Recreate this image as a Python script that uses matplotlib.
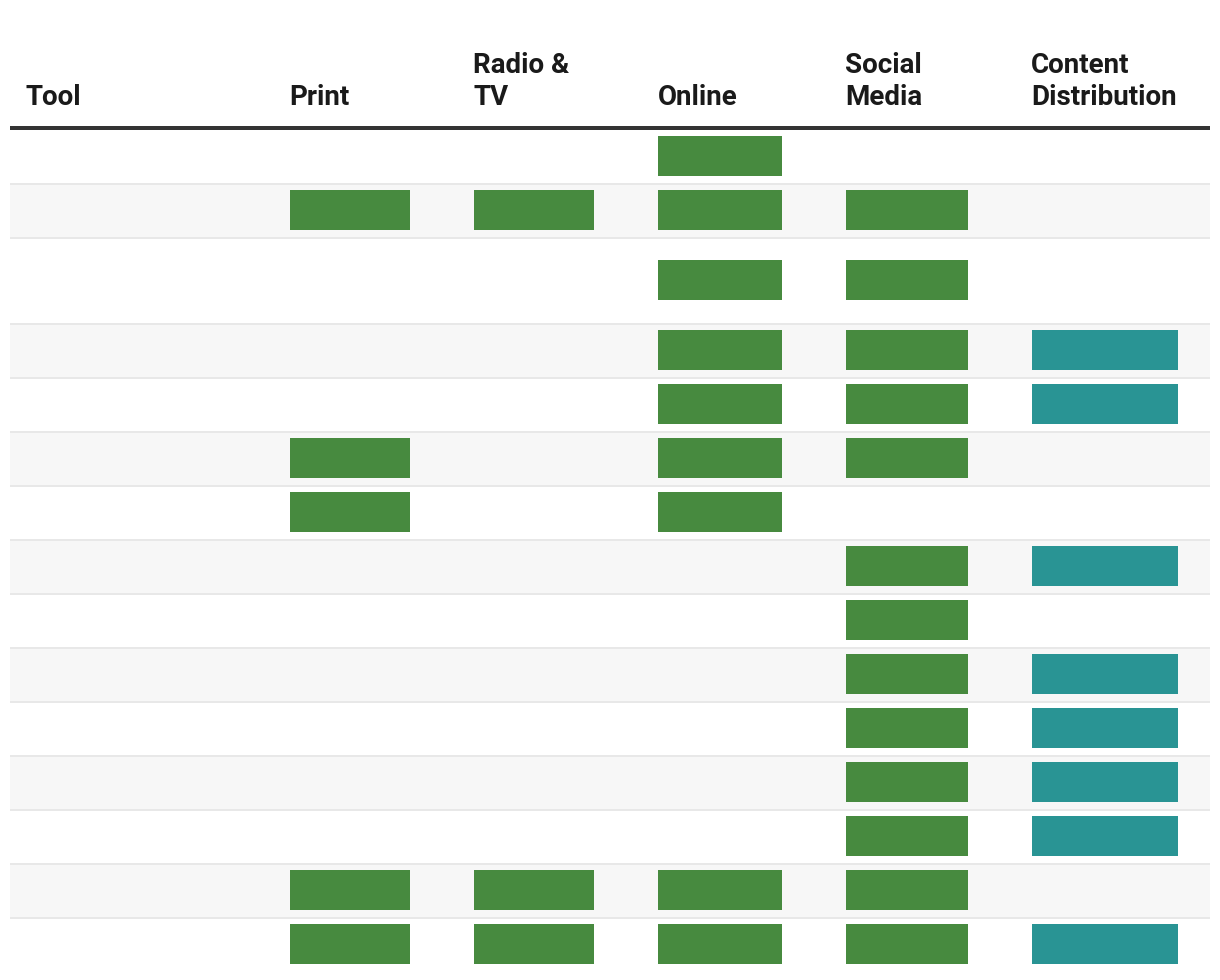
import matplotlib
matplotlib.use("Agg")
import matplotlib.pyplot as plt
from matplotlib.patches import Rectangle

# ---- data ----
columns = ["Tool", "Print", "Radio &\nTV", "Online", "Social\nMedia", "Content\nDistribution"]
tools = [""] * 15
print_use   = [0, 1, 0, 0, 0, 1, 1, 0, 0, 0, 0, 0, 0, 1, 1]
radio_tv    = [0, 1, 0, 0, 0, 0, 0, 0, 0, 0, 0, 0, 0, 1, 1]
online      = [1, 1, 1, 1, 1, 1, 1, 0, 0, 0, 0, 0, 0, 1, 1]
social      = [0, 1, 1, 1, 1, 1, 0, 1, 1, 1, 1, 1, 1, 1, 1]
content     = [0, 0, 0, 1, 1, 0, 0, 1, 0, 1, 1, 1, 1, 0, 1]
row_heights = [54, 54, 86, 54, 54, 54, 54, 54, 54, 54, 54, 54, 54, 54, 54]

# ---- layout ----
W, H = 1220, 980
fig = plt.figure(figsize=(W / 100, H / 100), dpi=100)
ax = fig.add_axes([0, 0, 1, 1])
ax.set_xlim(0, W)
ax.set_ylim(H, 0)
ax.axis("off")

font = "Roboto"
green = "#478a3f"
teal = "#299494"
left, right = 10, 1210
col_x = [26, 290, 474, 659, 846, 1032]
bar_specs = [  # (x, width, color)
    (290, 120, green),
    (474, 120, green),
    (658, 124, green),
    (846, 122, green),
    (1032, 146, teal),
]
series = [print_use, radio_tv, online, social, content]

# headers
for x, label in zip(col_x, columns):
    lines = label.split("\n")
    baselines = [105] if len(lines) == 1 else [73, 105]
    for ln, yb in zip(lines, baselines):
        ax.text(x - 1, yb, ln, fontsize=20, fontweight="bold", family=font,
                color="#1a1a1a", va="baseline", ha="left")

# header rule
ax.add_patch(Rectangle((left, 126), right - left, 4, color="#333333", lw=0))

# rows
y = 130
for i, h in enumerate(row_heights):
    if i % 2 == 1:
        ax.add_patch(Rectangle((left, y), right - left, h, color="#f7f7f7", lw=0, zorder=0))
    yc = y + h / 2
    for (bx, bw, bc), s in zip(bar_specs, series):
        if s[i]:
            ax.add_patch(Rectangle((bx, yc - 21), bw, 40, color=bc, lw=0, zorder=2))
    ax.text(col_x[0], yc, tools[i], fontsize=14, family=font, va="center")
    y += h
    if i < len(row_heights) - 1:
        ax.add_patch(Rectangle((left, y - 1), right - left, 2, color="#e8e8e8", lw=0, zorder=1))

fig.savefig("out.png", dpi=100, facecolor="white")
